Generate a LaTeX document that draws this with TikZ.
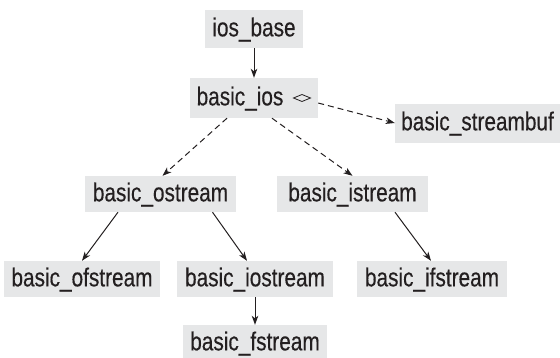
\documentclass[tikz,border=0pt]{standalone}
\usepackage{fontspec}
\setmainfont{Liberation Sans}[FakeStretch=0.8,FakeBold=0.3]
\usetikzlibrary{arrows.meta}
\definecolor{boxgray}{RGB}{230,231,232}
\definecolor{ink}{RGB}{35,31,32}
\tikzset{
  cls/.style={fill=boxgray, text=ink, inner sep=0pt, minimum height=36pt,
    text height=18.7pt, text depth=4pt,
    font=\fontsize{26}{30}\selectfont},
  arr/.style={draw=ink, line width=1pt, -{Stealth[length=9pt,width=6.5pt,inset=2.5pt]}},
  dsh/.style={dash pattern=on 6pt off 4pt}
}
\begin{document}
\begin{tikzpicture}[x=1pt,y=-1pt]
\useasboundingbox (0,0) rectangle (560,357);
\node[cls, minimum width=98pt, minimum height=38pt] (base) at (254,29) {ios\_base};
\node[cls, minimum width=128pt, minimum height=40pt] (bios) at (254,98) {basic\_ios\kern28pt};
\node[cls, minimum width=165pt, minimum height=39pt] (sbuf) at (477.5,123) {basic\_streambuf};
\node[cls, minimum width=151pt] (os) at (160.5,194) {basic\_ostream};
\node[cls, minimum width=151pt] (is) at (352.5,194) {basic\_istream};
\node[cls, minimum width=156pt] (ofs) at (82,279) {basic\_ofstream};
\node[cls, minimum width=156pt] (ios) at (255,279) {basic\_iostream};
\node[cls, minimum width=150pt] (ifs) at (432,279) {basic\_ifstream};
\node[cls, minimum width=144pt] (fs) at (255,343) {basic\_fstream};
% diamond marker of basic_ios
\draw[ink, line width=0.8pt] ([xshift=39.5pt]bios.center) -- ([xshift=48pt,yshift=3.5pt]bios.center)
  -- ([xshift=56.5pt]bios.center) -- ([xshift=48pt,yshift=-3.5pt]bios.center) -- cycle;
% connectors
\draw[arr] (base) -- (bios);
\draw[arr, dsh] ([yshift=-5pt]bios.east) -- (sbuf.west);
\draw[arr, dsh] ([xshift=-27pt]bios.south) -- ([xshift=2pt]os.north);
\draw[arr, dsh] ([xshift=18pt]bios.south) -- (is.north);
\draw[arr] ([xshift=-42.5pt]os.south) -- (ofs.north);
\draw[arr] ([xshift=52pt]os.south) -- ([xshift=-8pt]ios.north);
\draw[arr] ([xshift=42.5pt]is.south) -- ([xshift=-1pt]ifs.north);
\draw[arr] (ios) -- (fs);
\end{tikzpicture}
\end{document}
